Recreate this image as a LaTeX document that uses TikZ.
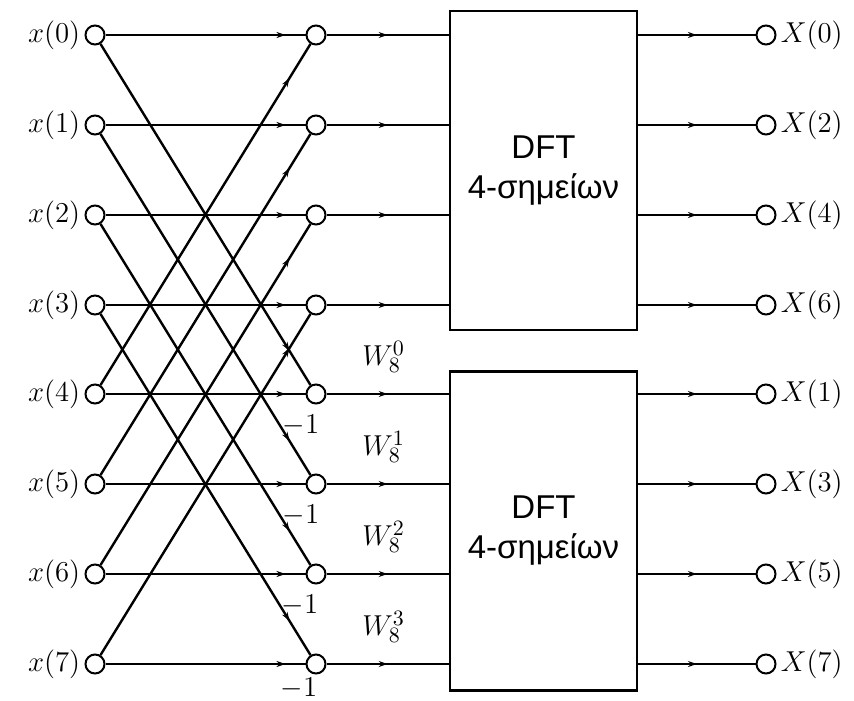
\documentclass[tikz,border=0pt]{standalone}
\usepackage{fontspec}
\newfontfamily\dftfont{Liberation Sans}
\usetikzlibrary{arrows.meta,positioning,decorations.markings}

\begin{document}
\begin{tikzpicture}[
  x=0.5pt, y=-0.5pt,
  pt/.style={draw, circle, line width=1pt, fill=white, minimum size=9.5pt, inner sep=0pt},
  dft/.style={draw, line width=1.3pt, minimum width=93.5pt, minimum height=159.5pt, align=center, font=\dftfont\fontsize{16.5}{20}\selectfont},
  flow/.style={line width=1.2pt, postaction={decorate},
    decoration={markings, mark=at position #1 with {\arrow{Stealth[length=4.5pt,width=3pt]}}}},
  flow/.default=0.9,
  lbl/.style={font=\fontsize{15}{18}\selectfont, inner sep=1pt},
]
\useasboundingbox (0,0) rectangle (854,700);

% Inputs (left column)
\node[pt] (i0) at (95,35)  {};
\node[pt] (i1) at (95,125) {};
\node[pt] (i2) at (95,215) {};
\node[pt] (i3) at (95,305) {};
\node[pt] (i4) at (95,394) {};
\node[pt] (i5) at (95,484) {};
\node[pt] (i6) at (95,574) {};
\node[pt] (i7) at (95,664) {};

\node[lbl, left=1pt] (li0) at (i0.west) {$x(0)$};
\node[lbl, left=1pt] (li1) at (i1.west) {$x(1)$};
\node[lbl, left=1pt] (li2) at (i2.west) {$x(2)$};
\node[lbl, left=1pt] (li3) at (i3.west) {$x(3)$};
\node[lbl, left=1pt] (li4) at (i4.west) {$x(4)$};
\node[lbl, left=1pt] (li5) at (i5.west) {$x(5)$};
\node[lbl, left=1pt] (li6) at (i6.west) {$x(6)$};
\node[lbl, left=1pt] (li7) at (i7.west) {$x(7)$};

% Butterfly outputs (middle column)
\node[pt] (m0) at (316,35)  {};
\node[pt] (m1) at (316,125) {};
\node[pt] (m2) at (316,215) {};
\node[pt] (m3) at (316,305) {};
\node[pt] (m4) at (316,394) {};
\node[pt] (m5) at (316,484) {};
\node[pt] (m6) at (316,574) {};
\node[pt] (m7) at (316,664) {};

% 4-point DFT blocks
\node[dft] (dft1) at (543.5,170.5) {DFT\\4-σημείων};
\node[dft] (dft2) at (543.5,531) {DFT\\4-σημείων};

% Outputs (right column)
\node[pt] (o0) at (766,35)  {};
\node[pt] (o2) at (766,125) {};
\node[pt] (o4) at (766,215) {};
\node[pt] (o6) at (766,305) {};
\node[pt] (o1) at (766,394) {};
\node[pt] (o3) at (766,484) {};
\node[pt] (o5) at (766,574) {};
\node[pt] (o7) at (766,664) {};

\node[lbl, right=1pt] (lo0) at (o0.east) {$X(0)$};
\node[lbl, right=1pt] (lo2) at (o2.east) {$X(2)$};
\node[lbl, right=1pt] (lo4) at (o4.east) {$X(4)$};
\node[lbl, right=1pt] (lo6) at (o6.east) {$X(6)$};
\node[lbl, right=1pt] (lo1) at (o1.east) {$X(1)$};
\node[lbl, right=1pt] (lo3) at (o3.east) {$X(3)$};
\node[lbl, right=1pt] (lo5) at (o5.east) {$X(5)$};
\node[lbl, right=1pt] (lo7) at (o7.east) {$X(7)$};

% Butterflies: straight branches
\draw[flow] (i0) -- (m0);
\draw[flow] (i1) -- (m1);
\draw[flow] (i2) -- (m2);
\draw[flow] (i3) -- (m3);
\draw[flow] (i4) -- (m4);
\draw[flow] (i5) -- (m5);
\draw[flow] (i6) -- (m6);
\draw[flow] (i7) -- (m7);

% Butterflies: crossing branches
\draw[flow] (i0) -- (m4);
\draw[flow] (i1) -- (m5);
\draw[flow] (i2) -- (m6);
\draw[flow] (i3) -- (m7);
\draw[flow] (i4) -- (m0);
\draw[flow] (i5) -- (m1);
\draw[flow] (i6) -- (m2);
\draw[flow] (i7) -- (m3);

% Minus signs
\node[lbl] (n4) at ([shift={(-15,31)}]m4) {$-1$};
\node[lbl] (n5) at ([shift={(-15,31)}]m5) {$-1$};
\node[lbl] (n6) at ([shift={(-16,31)}]m6) {$-1$};
\node[lbl] (n7) at ([shift={(-17,24)}]m7) {$-1$};

% Into the DFT blocks
\draw[flow=0.5] (m0) -- (dft1.west |- m0);
\draw[flow=0.5] (m1) -- (dft1.west |- m1);
\draw[flow=0.5] (m2) -- (dft1.west |- m2);
\draw[flow=0.5] (m3) -- (dft1.west |- m3);
\draw[flow=0.5] (m4) -- node[lbl, above=9pt, xshift=-2pt] (w0) {$W_8^0$} (dft2.west |- m4);
\draw[flow=0.5] (m5) -- node[lbl, above=9pt, xshift=-2pt] (w1) {$W_8^1$} (dft2.west |- m5);
\draw[flow=0.5] (m6) -- node[lbl, above=9pt, xshift=-2pt] (w2) {$W_8^2$} (dft2.west |- m6);
\draw[flow=0.5] (m7) -- node[lbl, above=9pt, xshift=-2pt] (w3) {$W_8^3$} (dft2.west |- m7);

% Out of the DFT blocks
\draw[flow=0.5] (dft1.east |- o0) -- (o0);
\draw[flow=0.5] (dft1.east |- o2) -- (o2);
\draw[flow=0.5] (dft1.east |- o4) -- (o4);
\draw[flow=0.5] (dft1.east |- o6) -- (o6);
\draw[flow=0.5] (dft2.east |- o1) -- (o1);
\draw[flow=0.5] (dft2.east |- o3) -- (o3);
\draw[flow=0.5] (dft2.east |- o5) -- (o5);
\draw[flow=0.5] (dft2.east |- o7) -- (o7);

\end{tikzpicture}
\end{document}
